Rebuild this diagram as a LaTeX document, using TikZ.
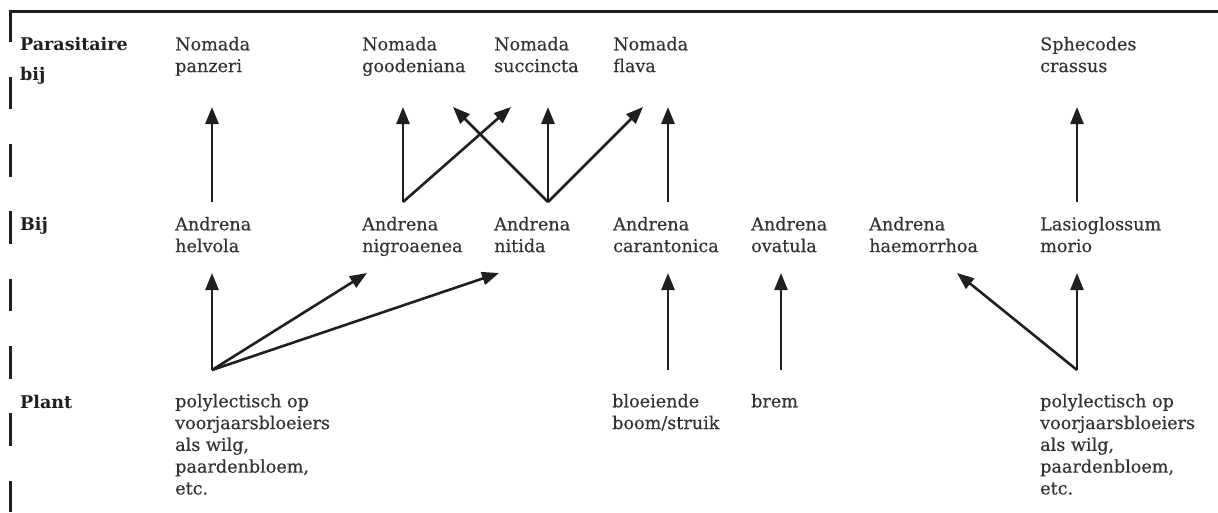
\documentclass[tikz,border=0pt]{standalone}
\usepackage{fontspec}
\setmainfont{DejaVu Serif}
\newfontfamily\bodyfont{DejaVu Serif}[FakeBold=0.35]
\usetikzlibrary{arrows.meta}
\begin{document}
\begin{tikzpicture}[x=1pt,y=-1pt,
  txt/.style={anchor=north west, inner sep=0pt, align=left, text=black!80,
    font=\bodyfont\fontsize{17.6}{21.8}\selectfont},
  rowlbl/.style={anchor=north west, inner sep=0pt, align=left, text=black!88,
    font=\fontsize{17.5}{30}\selectfont\bfseries},
  arr/.style={-{Triangle[length=17pt,width=13pt]}, line width=2.6pt, draw=black!88},
  frame/.style={line width=3pt, draw=black!88},
]
\useasboundingbox (0,0) rectangle (1218,512);
% frame
\draw[frame] (8.5,11) -- (1218,11);
\draw[frame, dash pattern=on 32.5pt off 34.8pt] (10,9.5) -- (10,512);

% row labels
\node[rowlbl] (rPar) at (20,36.7) {Parasitaire\\bij};
\node[rowlbl] (rBij) at (20,216.7) {Bij};
\node[rowlbl] (rPlant) at (20,394.7) {Plant};

% parasitic bees
\node[txt] (panzeri) at (175,36.7) {Nomada\\panzeri};
\node[txt] (goodeniana) at (362,36.7) {Nomada\\goodeniana};
\node[txt] (succincta) at (494,36.7) {Nomada\\succincta};
\node[txt] (flava) at (613,36.7) {Nomada\\flava};
\node[txt] (crassus) at (1040,36.7) {Sphecodes\\crassus};

% bees
\node[txt] (helvola) at (175,216.7) {Andrena\\helvola};
\node[txt] (nigroaenea) at (362,216.7) {Andrena\\nigroaenea};
\node[txt] (nitida) at (494,216.7) {Andrena\\nitida};
\node[txt] (carantonica) at (613,216.7) {Andrena\\carantonica};
\node[txt] (ovatula) at (751,216.7) {Andrena\\ovatula};
\node[txt] (haemorrhoa) at (869,216.7) {Andrena\\haemorrhoa};
\node[txt] (morio) at (1040,216.7) {Lasioglossum\\morio};

% plants
\node[txt] (poly1) at (175,393.7) {polylectisch op\\voorjaarsbloeiers\\als wilg,\\paardenbloem,\\etc.};
\node[txt] (boom) at (612,393.7) {bloeiende\\boom/struik};
\node[txt] (brem) at (751,393.7) {brem};
\node[txt] (poly2) at (1040,393.7) {polylectisch op\\voorjaarsbloeiers\\als wilg,\\paardenbloem,\\etc.};

% connector end points
\coordinate (helvolaU) at (212,202);
\coordinate (nigroU) at (403,202);
\coordinate (nitidaU) at (548,202);
\coordinate (caranU) at (668,202);
\coordinate (morioU) at (1077,202);
\coordinate (panzeriD) at (212,107);
\coordinate (goodD1) at (403,107);
\coordinate (goodD2) at (453,107);
\coordinate (succD1) at (511,107);
\coordinate (succD2) at (548,107);
\coordinate (flavaD1) at (643,107);
\coordinate (flavaD2) at (668,107);
\coordinate (crassusD) at (1077,107);

\coordinate (poly1U) at (212,370);
\coordinate (boomU) at (668,370);
\coordinate (bremU) at (781,370);
\coordinate (poly2U) at (1077,370);
\coordinate (helvolaD) at (212,273);
\coordinate (nigroD) at (367,273);
\coordinate (nitidaD) at (499,273);
\coordinate (caranD) at (668,273);
\coordinate (ovatulaD) at (781,273);
\coordinate (haemD) at (957,273);
\coordinate (morioD) at (1077,273);

% bee -> parasite
\draw[arr] (helvolaU) -- (panzeriD);
\draw[arr] (nigroU) -- (goodD1);
\draw[arr] (nigroU) -- (succD1);
\draw[arr] (nitidaU) -- (goodD2);
\draw[arr] (nitidaU) -- (succD2);
\draw[arr] (nitidaU) -- (flavaD1);
\draw[arr] (caranU) -- (flavaD2);
\draw[arr] (morioU) -- (crassusD);

% plant -> bee
\draw[arr] (poly1U) -- (helvolaD);
\draw[arr] (poly1U) -- (nigroD);
\draw[arr] (poly1U) -- (nitidaD);
\draw[arr] (boomU) -- (caranD);
\draw[arr] (bremU) -- (ovatulaD);
\draw[arr] (poly2U) -- (haemD);
\draw[arr] (poly2U) -- (morioD);
\end{tikzpicture}
\end{document}
